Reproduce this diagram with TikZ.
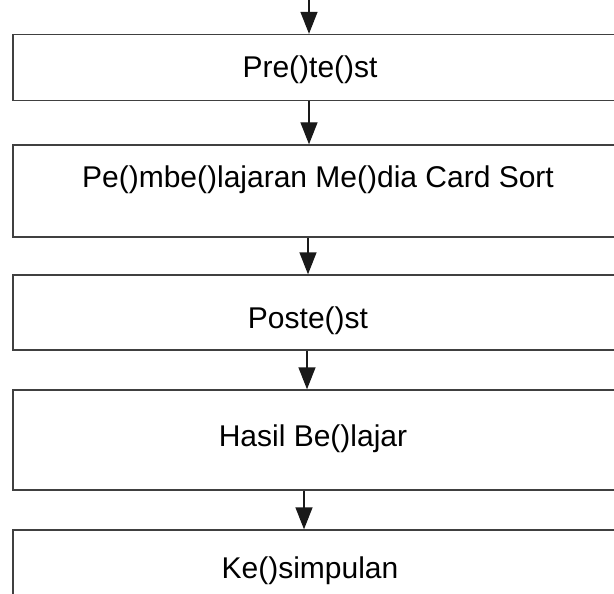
\documentclass[tikz,border=0pt]{standalone}
\usepackage{fontspec}
\setmainfont{Liberation Sans}
\usetikzlibrary{arrows.meta, positioning}

\tikzset{
  stagebox/.style={draw=black!75, line width=1.4pt, rectangle,
    minimum width=620pt, inner sep=0pt},
  every label/.style={font=\fontsize{30}{33}\selectfont, inner sep=0pt},
  flow/.style={draw=black!90, line width=1.4pt,
    -{Triangle[width=17pt,length=22pt]}}
}

\begin{document}
\begin{tikzpicture}[x=1pt, y=-1pt]
\clip (0,0) rectangle (614,594);

% --- stages ---------------------------------------------------------------
\node[stagebox, minimum height=66pt,
  label={[xshift=-13pt, yshift=-2pt]center:Pre()te()st}] (pretest) at (323,67.5) {};
\node[stagebox, minimum height=92pt,
  label={[xshift=-5pt, yshift=11pt]center:Pe()mbe()lajaran Me()dia Card Sort}]
  (media) at (323,191) {};
\node[stagebox, minimum height=75pt,
  label={[xshift=-15pt, yshift=-8pt]center:Poste()st}] (posttest) at (323,312.5) {};
\node[stagebox, minimum height=100pt,
  label={[xshift=-10pt, yshift=1.5pt]center:Hasil Be()lajar}] (hasil) at (323,440) {};
\node[stagebox, minimum height=76pt,
  label={[xshift=-13pt, yshift=-2.5pt]center:Ke()simpulan}] (simpulan) at (323,568) {};

% --- arrows ---------------------------------------------------------------
\coordinate (start) at (309,0);
\draw[flow] (start) -- (pretest.north -| start);
\draw[flow] (pretest.south -| start) -- (media.north -| start);
\draw[flow] ([xshift=-1pt]media.south -| start) -- ([xshift=-1pt]posttest.north -| start);
\draw[flow] ([xshift=-2pt]posttest.south -| start) -- ([xshift=-2pt]hasil.north -| start);
\draw[flow] ([xshift=-5pt]hasil.south -| start) -- ([xshift=-5pt]simpulan.north -| start);

\end{tikzpicture}
\end{document}
